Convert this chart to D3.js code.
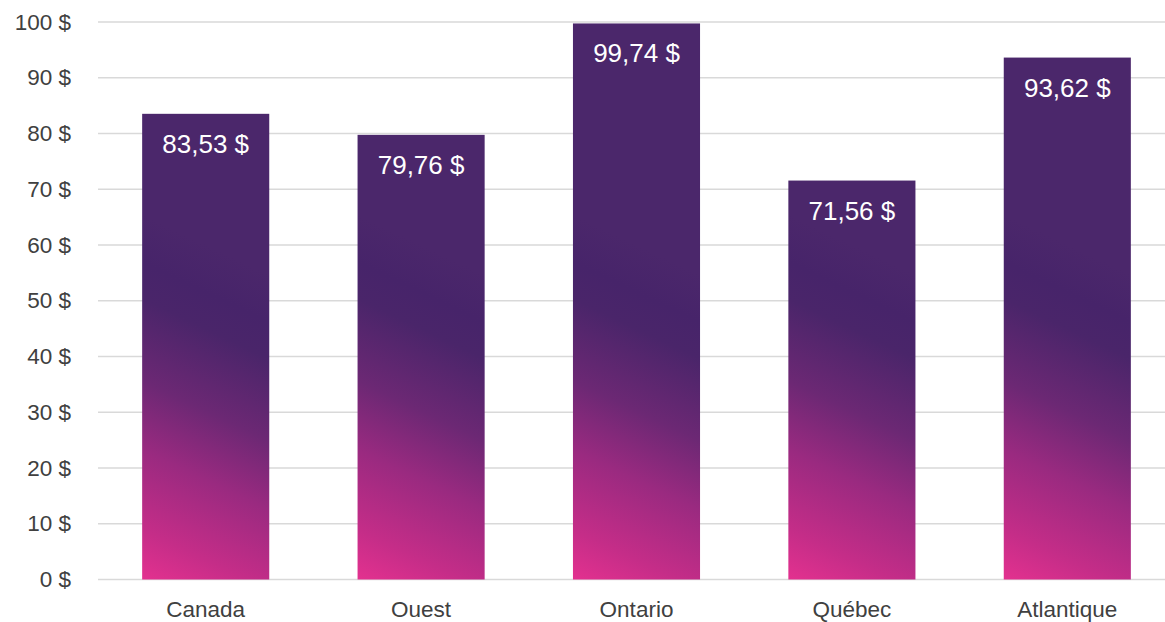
<!DOCTYPE html>
<html><head><meta charset="utf-8">
<script src="https://cdn.jsdelivr.net/npm/d3@7"></script>
<style>body{margin:0;background:#fff}svg{display:block;font-family:"Liberation Sans",Arial,sans-serif}</style>
</head><body>
<svg id="c" width="1165" height="622"></svg>
<script>
const categories = ["Canada","Ouest","Ontario","Québec","Atlantique"];
const values = [83.53, 79.76, 99.74, 71.56, 93.62];
const valueLabels = ["83,53 $","79,76 $","99,74 $","71,56 $","93,62 $"];
const yTicks = [0,10,20,30,40,50,60,70,80,90,100];

const svg = d3.select("#c");
const x = d3.scaleBand().domain(categories).range([98, 1175]).paddingInner(0.41).paddingOuter(0.205);
const y = d3.scaleLinear().domain([0,100]).range([579.5, 22]);

// gridlines
svg.append("g").selectAll("line").data(yTicks).join("line")
  .attr("x1", 98).attr("x2", 1165)
  .attr("y1", d=>y(d)).attr("y2", d=>y(d))
  .attr("stroke", "#d9d9d9").attr("stroke-width", 1.5);

// y axis labels
const yAxis = d3.axisLeft(y).tickValues(yTicks).tickSize(0).tickPadding(0).tickFormat(d=>d+" $");
const ga = svg.append("g").attr("transform","translate(71,0)").call(yAxis);
ga.select(".domain").remove();
ga.selectAll("text").attr("font-size", 22.5).attr("fill", "#404040").attr("font-family","Liberation Sans, Arial, sans-serif");

// gradients
const defs = svg.append("defs");
categories.forEach((c,i)=>{
  const bx = x(c);
  const g = defs.append("linearGradient").attr("id","g"+i).attr("gradientUnits","userSpaceOnUse")
    .attr("x1", bx).attr("y1", y(0)).attr("x2", bx + 0.427*330).attr("y2", y(0) - 0.904*330);
  [[0,"#e3318f"],[0.136,"#c52d88"],[0.355,"#9a2a80"],[0.545,"#6c2874"],[0.77,"#4a256a"],[0.87,"#47246a"],[1,"#4b276b"]]
    .forEach(s=>g.append("stop").attr("offset",s[0]).attr("stop-color",s[1]));
});

// bars
svg.append("g").selectAll("rect").data(values).join("rect")
  .attr("x",(d,i)=>x(categories[i])).attr("width",x.bandwidth())
  .attr("y",d=>y(d)).attr("height",d=>y(0)-y(d))
  .attr("fill",(d,i)=>"url(#g"+i+")");

// value labels
svg.append("g").selectAll("text").data(values).join("text")
  .attr("x",(d,i)=>x(categories[i])+x.bandwidth()/2)
  .attr("y",d=>y(d)+39)
  .attr("text-anchor","middle").attr("font-size",26).attr("fill","#fff")
  .text((d,i)=>valueLabels[i]);

// x axis labels
const xAxis = d3.axisBottom(x).tickSize(0).tickPadding(0);
const gx = svg.append("g").attr("transform","translate(0,617)").call(xAxis);
gx.select(".domain").remove();
gx.selectAll("text").attr("dy",0).attr("font-size",22.5).attr("fill","#404040").attr("font-family","Liberation Sans, Arial, sans-serif");
</script>
</body></html>
